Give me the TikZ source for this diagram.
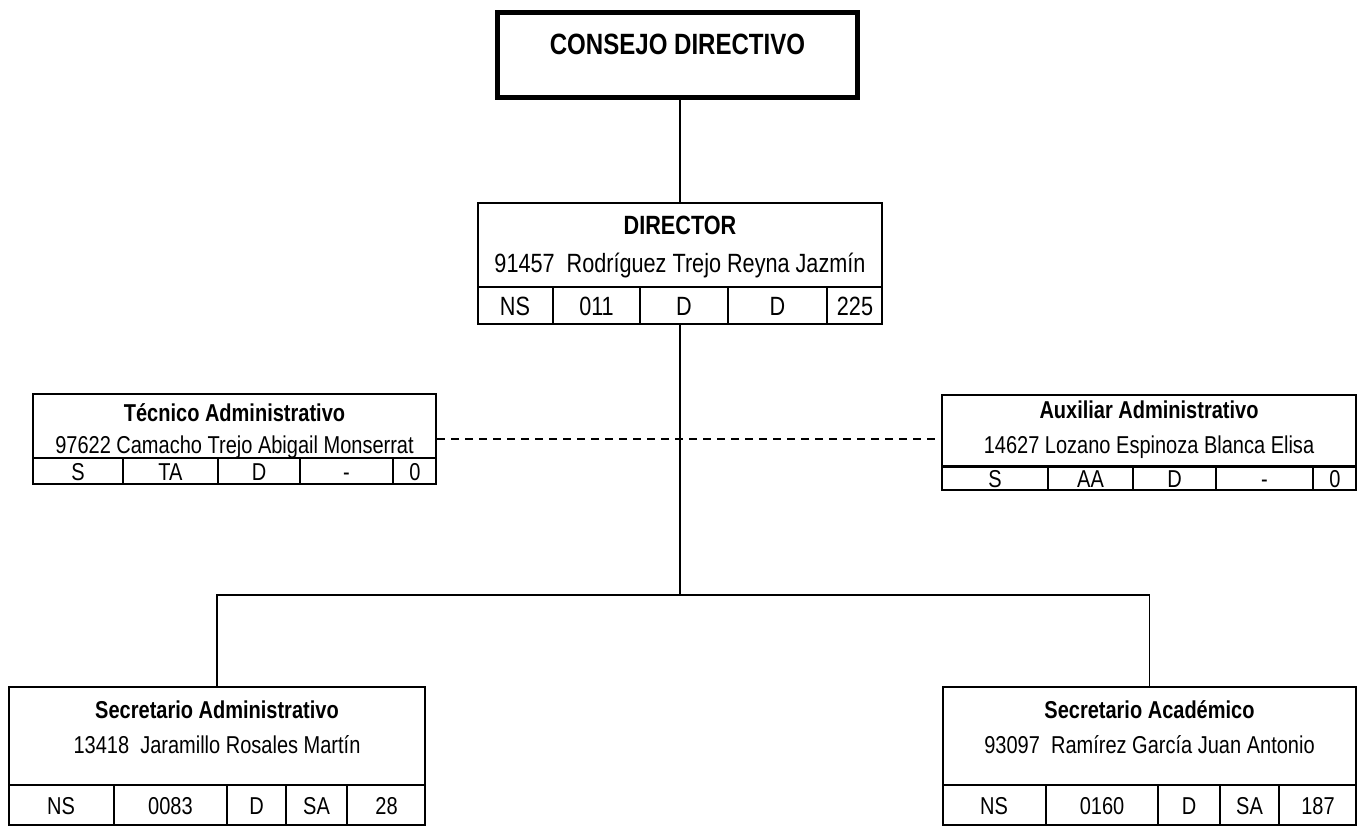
\documentclass[tikz,border=0pt]{standalone}
\usepackage{fontspec}
\setmainfont{Liberation Sans}[FakeStretch=0.82]

\begin{document}
\begin{tikzpicture}[x=0.75pt,y=-0.75pt]

\tikzstyle box=[draw, line width=1.6pt, inner sep=0pt]
\tikzstyle bigbox=[draw, line width=3.75pt, inner sep=0pt]
\tikzstyle rule=[line width=1.6pt]
\tikzstyle link=[line width=1.4pt]
\tikzstyle txt=[inner sep=0pt, text height=13.2pt, text depth=0pt, font=\fontsize{18.3}{20}\selectfont]
\tikzstyle head=[inner sep=0pt, text height=13.2pt, text depth=0pt, font=\bfseries\fontsize{18.3}{20}\selectfont]
\tikzstyle txtl=[inner sep=0pt, text height=14.3pt, text depth=0pt, font=\fontsize{19.8}{22}\selectfont]
\tikzstyle headl=[inner sep=0pt, text height=14.3pt, text depth=0pt, font=\bfseries\fontsize{19.8}{22}\selectfont]
\tikzstyle headxl=[inner sep=0pt, text height=15.8pt, text depth=0pt, font=\bfseries\fontsize{22}{24}\selectfont]

\useasboundingbox (0,0) rectangle (1363,829);

% consejo
\node (consejo) [bigbox, minimum width=270pt, minimum height=63.75pt] at (677.5,55) {};
\node (ctitle) [headxl] at (677.5,44) {CONSEJO DIRECTIVO};

% director
\node (dir) [box, minimum width=303pt, minimum height=90.75pt] at (680,263.5) {};
\node (dtitle) [headl] at (680,225) {DIRECTOR};
\node (dname) [txtl] at (680,263) {91457~~Rodríguez Trejo Reyna Jazmín};
\draw [rule] (478,287) -- (882,287);
\draw [rule] (553,287) -- (553,324);
\draw [rule] (640,287) -- (640,324);
\draw [rule] (728,287) -- (728,324);
\draw [rule] (827,287) -- (827,324);
\node (d1) [txtl] at (515,306) {NS};
\node (d2) [txtl] at (596.5,306) {011};
\node (d3) [txtl] at (684,306) {D};
\node (d4) [txtl] at (777.5,306) {D};
\node (d5) [txtl] at (855,306) {225};

% tecnico
\node (tec) [box, minimum width=302.25pt, minimum height=67.5pt] at (234.5,439) {};
\node (ttitle) [head] at (234.5,413) {Técnico Administrativo};
\node (tname) [txt] at (234.5,445) {97622 Camacho Trejo Abigail Monserrat};
\draw [rule] (33,458) -- (436,458);
\draw [rule] (123,458) -- (123,484);
\draw [rule] (218,458) -- (218,484);
\draw [rule] (300,458) -- (300,484);
\draw [rule] (393,458) -- (393,484);
\node (t1) [txt] at (78,472) {S};
\node (t2) [txt] at (170.5,472) {TA};
\node (t3) [txt] at (259,472) {D};
\node (t4) [txt] at (346.5,472) {-};
\node (t5) [txt] at (415,472) {0};

% auxiliar
\node (aux) [box, minimum width=310.5pt, minimum height=71.25pt] at (1149,442.5) {};
\node (atitle) [head] at (1149,410) {Auxiliar Administrativo};
\node (aname) [txt] at (1149,445) {14627 Lozano Espinoza Blanca Elisa};
\draw [rule] (942,466.5) -- (1356,466.5);
\draw [rule] (1048,466.5) -- (1048,490);
\draw [rule] (1133,466.5) -- (1133,490);
\draw [rule] (1216,466.5) -- (1216,490);
\draw [rule] (1313,466.5) -- (1313,490);
\node (a1) [txt] at (995,478.5) {S};
\node (a2) [txt] at (1090.5,478.5) {AA};
\node (a3) [txt] at (1174.5,478.5) {D};
\node (a4) [txt] at (1264.5,478.5) {-};
\node (a5) [txt] at (1335,478.5) {0};

% secretario administrativo
\node (sadm) [box, minimum width=312pt, minimum height=103.5pt] at (217,756) {};
\node (stitle) [head] at (217,710) {Secretario Administrativo};
\node (sname) [txt] at (217,745) {13418~~Jaramillo Rosales Martín};
\draw [rule] (9,785) -- (425,785);
\draw [rule] (114,785) -- (114,825);
\draw [rule] (227,785) -- (227,825);
\draw [rule] (286,785) -- (286,825);
\draw [rule] (347,785) -- (347,825);
\node (s1) [txt] at (61,806) {NS};
\node (s2) [txt] at (170.5,806) {0083};
\node (s3) [txt] at (256.5,806) {D};
\node (s4) [txt] at (316.5,806) {SA};
\node (s5) [txt] at (386.5,806) {28};

% secretario academico
\node (sacad) [box, minimum width=309.75pt, minimum height=103.5pt] at (1149.5,756) {};
\node (ktitle) [head] at (1149.5,710) {Secretario Académico};
\node (kname) [txt] at (1149.5,745) {93097~~Ramírez García Juan Antonio};
\draw [rule] (943,785) -- (1356,785);
\draw [rule] (1046,785) -- (1046,825);
\draw [rule] (1158,785) -- (1158,825);
\draw [rule] (1220,785) -- (1220,825);
\draw [rule] (1279,785) -- (1279,825);
\node (k1) [txt] at (994,806) {NS};
\node (k2) [txt] at (1102,806) {0160};
\node (k3) [txt] at (1189,806) {D};
\node (k4) [txt] at (1249.5,806) {SA};
\node (k5) [txt] at (1318,806) {187};

% lines
\coordinate (bus) at (680,595);
\draw [link] (dir.north) -- (dir.north |- consejo.south);
\draw [link] (dir.south) -- (bus);
\draw [link] (sadm.north) |- (bus) -| (sacad.north);
\draw [link, dash pattern=on 6pt off 4.5pt] (tec.east) -- (tec.east -| aux.west);

\end{tikzpicture}
\end{document}
